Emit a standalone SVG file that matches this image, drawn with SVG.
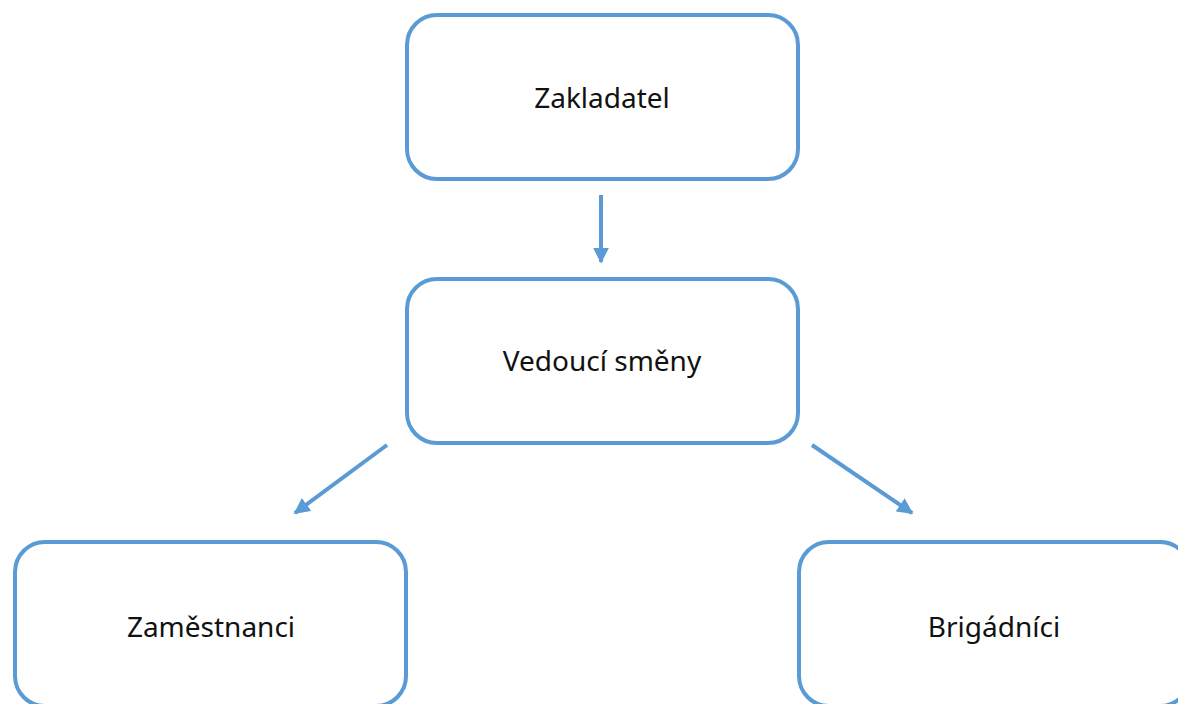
<svg xmlns="http://www.w3.org/2000/svg" width="1178" height="704" viewBox="0 0 1178 704">
<style>
.box{fill:#fff;stroke:#5B9BD5;stroke-width:4}
.lbl{font-family:"Noto Sans","Open Sans",sans-serif;font-size:28px;fill:#111;text-anchor:middle}
.con{stroke:#5B9BD5;stroke-width:4;fill:none;marker-end:url(#ah)}
</style>
<defs>
<marker id="ah" viewBox="0 0 10 10" refX="9" refY="5" markerWidth="4" markerHeight="4" orient="auto" markerUnits="strokeWidth">
<path d="M0,0 L10,5 L0,10 z" fill="#5B9BD5"/>
</marker>
</defs>
<rect width="1178" height="704" fill="#fff"/>
<g id="connectors">
<line class="con" x1="601" y1="195" x2="601" y2="262"/>
<line class="con" x1="387" y1="445" x2="295" y2="513"/>
<line class="con" x1="812" y1="445" x2="912" y2="513"/>
</g>
<g id="node-zakladatel">
<rect class="box" x="407" y="15" width="391" height="164" rx="30"/>
<text class="lbl" x="602" y="108">Zakladatel</text>
</g>
<g id="node-vedouci">
<rect class="box" x="407" y="279" width="391" height="164" rx="30"/>
<text class="lbl" x="602" y="371">Vedoucí směny</text>
</g>
<g id="node-zamestnanci">
<rect class="box" x="15" y="542" width="391" height="164" rx="30"/>
<text class="lbl" x="211" y="637">Zaměstnanci</text>
</g>
<g id="node-brigadnici">
<rect class="box" x="799" y="542" width="391" height="164" rx="30"/>
<text class="lbl" x="994" y="637">Brigádníci</text>
</g>
</svg>
